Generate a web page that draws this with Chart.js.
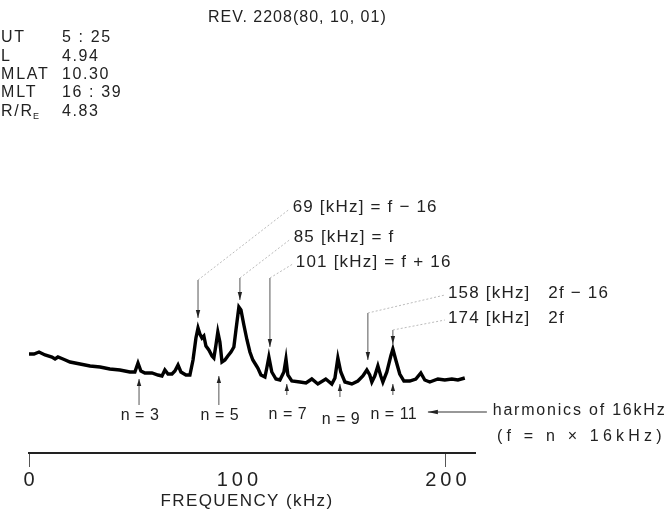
<!DOCTYPE html>
<html>
<head>
<meta charset="utf-8">
<script src="https://cdn.jsdelivr.net/npm/chart.js@4/dist/chart.umd.min.js"></script>
<style>
  html, body { margin: 0; padding: 0; background: #fff; }
  canvas { display: block; }
</style>
</head>
<body>
<canvas id="spectrum" width="669" height="526"></canvas>
<script>
// spectrum trace (x in kHz on the drawn axis, y in relative amplitude)
const freqKHz = [
  0.0, 2.4, 4.8, 7.7, 11.0, 12.5, 13.9, 16.3, 19.7, 24.5, 29.3, 34.1, 38.8, 43.6, 48.4, 50.8,
  52.3, 53.7, 55.6, 59.0, 61.9, 63.8, 65.2, 66.7, 68.6, 70.0, 71.5, 72.9, 75.3, 77.2, 78.7, 80.1,
  81.1, 82.0, 83.0, 83.9, 84.9, 86.3, 87.8, 88.7, 89.7, 90.6, 91.6, 92.6, 94.0, 95.4, 96.9, 98.3,
  99.3, 100.7, 101.7, 103.1, 104.6, 106.0, 107.4, 108.9, 109.8, 111.3, 113.2, 114.1, 115.1, 116.5,
  118.5, 120.4, 122.3, 123.3, 124.2, 126.1, 130.0, 132.9, 135.7, 138.6, 142.4, 145.3, 146.8, 148.2,
  149.6, 151.6, 154.9, 157.8, 160.2, 162.1, 163.5, 164.5, 165.9, 167.4, 168.8, 169.8, 171.7, 173.6,
  174.6, 176.0, 177.9, 179.9, 182.7, 185.6, 188.0, 189.9, 192.3, 196.2, 199.5, 202.9, 205.8, 209.1
];
const amplitude = [
  99, 99, 101, 98, 96, 94, 96, 94, 91, 89, 87, 86, 84, 83, 81, 81,
  90, 82, 80, 80, 78, 77, 83, 79, 79, 82, 88, 81, 78, 78, 93, 115,
  125, 119, 115, 117, 107, 103, 97, 95, 108, 121, 111, 91, 93, 97, 101, 106,
  123, 146, 143, 128, 113, 101, 93, 88, 85, 78, 76, 85, 96, 81,
  74, 73, 81, 94, 78, 72, 71, 70, 74, 69, 74, 69, 75, 95,
  81, 71, 69, 72, 77, 83, 78, 71, 77, 87, 77, 71, 81, 97,
  104, 93, 79, 72, 72, 74, 80, 73, 71, 74, 73, 74, 73, 75
];
const axisTicks = [0, 100, 200];
const axisTitle = 'FREQUENCY (kHz)';

// header
const headerTitle = 'REV. 2208(80, 10, 01)';
const orbitKeys = ['UT', 'L', 'MLAT', 'MLT', 'R/R'];
const orbitValues = ['5 : 25', '4.94', '10.30', '16 : 39', '4.83'];

// labelled peaks (arrows from above)
const peakLabels = ['69 [kHz] = f − 16', '85 [kHz] = f', '101 [kHz] = f + 16', '158 [kHz]   2f − 16', '174 [kHz]   2f'];
const peakArrowFreq = [81.1, 101.2, 115.6, 162.6, 174.6];
const peakArrowTop = [173, 175, 175, 140, 123];
const peakArrowTip = [135, 153, 106, 93, 109];
const peakLabelFreq = [126.5, 127.0, 128.0, 201.0, 201.0];
const peakLabelAmp = [246, 216, 191, 160, 135];

// harmonics (arrows from below)
const harmonicN = [3, 5, 7, 9, 11];
const harmonicFreq = [52.8, 91.1, 123.7, 149.2, 174.6];
const harmonicTail = [48, 48, 58, 56, 58];
const harmonicTip = [74, 77, 69, 69, 69];
const harmonicLabelAmp = [37, 37, 38, 33, 38];
const harmonicNote = ['harmonics of 16kHz', '(f = n × 16kHz)'];

const FONT = '"Liberation Sans", Arial, sans-serif';
const INK = '#222';

function arrow(ctx, x1, y1, x2, y2, head) {
  ctx.beginPath();
  ctx.moveTo(x1, y1);
  ctx.lineTo(x2, y2);
  ctx.stroke();
  const ang = Math.atan2(y2 - y1, x2 - x1);
  const len = head || 8;
  ctx.beginPath();
  ctx.moveTo(x2, y2);
  ctx.lineTo(x2 - len * Math.cos(ang) + 2.2 * Math.sin(ang), y2 - len * Math.sin(ang) - 2.2 * Math.cos(ang));
  ctx.lineTo(x2 - len * Math.cos(ang) - 2.2 * Math.sin(ang), y2 - len * Math.sin(ang) + 2.2 * Math.cos(ang));
  ctx.closePath();
  ctx.fill();
}

function spaced(ctx, txt, x, y, size, spacing) {
  ctx.font = size + 'px ' + FONT;
  ctx.letterSpacing = spacing + 'px';
  ctx.fillText(txt, x, y);
}

const annotations = {
  id: 'annotations',
  beforeDraw(chart) {
    // wide tick lettering like the original
    chart.ctx.letterSpacing = '4px';
  },
  beforeDatasetsDraw(chart) {
    chart.ctx.letterSpacing = '0px';
  },
  afterDraw(chart) {
    const { ctx, scales: { x, y } } = chart;
    ctx.save();
    ctx.fillStyle = INK;
    ctx.textBaseline = 'middle';
    ctx.textAlign = 'left';

    // header block
    spaced(ctx, headerTitle, 208, 18, 16, 1);
    orbitKeys.forEach((k, i) => {
      const ty = 38 + i * 18.3;
      spaced(ctx, k, 1, ty, 16, 1.8);
      spaced(ctx, orbitValues[i], 62, ty, 16, 1.6);
    });
    ctx.font = '16px ' + FONT;
    ctx.letterSpacing = '1.8px';
    const rw = ctx.measureText('R/R').width;
    spaced(ctx, 'E', 1 + rw - 1, 38 + 4 * 18.3 + 5, 9, 0);

    // peak arrows + dotted leaders
    peakLabels.forEach((txt, i) => {
      const ax = x.getPixelForValue(peakArrowFreq[i]);
      const top = y.getPixelForValue(peakArrowTop[i]);
      const tip = y.getPixelForValue(peakArrowTip[i]);
      const lx = x.getPixelForValue(peakLabelFreq[i]);
      const ly = y.getPixelForValue(peakLabelAmp[i]);
      ctx.strokeStyle = '#555';
      ctx.lineWidth = 1;
      ctx.setLineDash([]);
      arrow(ctx, ax, top, ax, tip, 8);
      ctx.strokeStyle = '#aaa';
      ctx.lineWidth = 0.8;
      ctx.setLineDash([2, 2]);
      ctx.beginPath();
      ctx.moveTo(ax, top);
      ctx.lineTo(lx - 3, ly + 2);
      ctx.stroke();
      ctx.setLineDash([]);
      ctx.textAlign = 'left';
      spaced(ctx, txt, lx, ly, 17, 1.2);
    });

    // harmonic arrows
    harmonicN.forEach((n, i) => {
      const ax = x.getPixelForValue(harmonicFreq[i]);
      ctx.strokeStyle = '#555';
      ctx.lineWidth = 1;
      arrow(ctx, ax, y.getPixelForValue(harmonicTail[i]), ax, y.getPixelForValue(harmonicTip[i]), 7);
      ctx.textAlign = 'center';
      spaced(ctx, 'n = ' + n, ax + 1, y.getPixelForValue(harmonicLabelAmp[i]), 16, 0.5);
    });

    // harmonics note
    ctx.strokeStyle = '#333';
    ctx.lineWidth = 1.2;
    arrow(ctx, x.getPixelForValue(219.7), y.getPixelForValue(41), x.getPixelForValue(191.4), y.getPixelForValue(41), 10);
    ctx.textAlign = 'left';
    spaced(ctx, harmonicNote[0], x.getPixelForValue(222.5), y.getPixelForValue(42), 16, 1.8);
    spaced(ctx, harmonicNote[1], x.getPixelForValue(224.5), y.getPixelForValue(16), 16, 4.2);

    // axis title
    ctx.textAlign = 'center';
    spaced(ctx, axisTitle, (x.left + x.right) / 2 - 5, 501, 17, 1.4);
    ctx.restore();
  }
};

new Chart(document.getElementById('spectrum'), {
  type: 'line',
  data: {
    datasets: [{
      data: freqKHz.map((f, i) => ({ x: f, y: amplitude[i] })),
      borderColor: '#000',
      borderWidth: 3.4,
      pointRadius: 0,
      tension: 0,
      fill: false
    }]
  },
  options: {
    responsive: false,
    animation: false,
    layout: { padding: { left: 29, right: 194, top: 0, bottom: 0 } },
    plugins: { legend: { display: false }, tooltip: { enabled: false } },
    scales: {
      x: {
        type: 'linear',
        min: 0,
        max: 214,
        afterBuildTicks: s => { s.ticks = axisTicks.map(v => ({ value: v })); },
        afterFit: s => { s.height = 73; },
        border: { display: true, color: '#222', width: 2 },
        grid: {
          drawOnChartArea: false,
          tickLength: 14,
          color: c => (c.tick && c.tick.value === 100 ? 'rgba(0,0,0,0)' : '#555'),
          lineWidth: 1
        },
        ticks: { color: INK, padding: 1, labelOffset: 2, font: { family: FONT, size: 20 } },
        title: { display: false }
      },
      y: { display: false, min: 0, max: 453 }
    }
  },
  plugins: [annotations]
});
</script>
</body>
</html>
